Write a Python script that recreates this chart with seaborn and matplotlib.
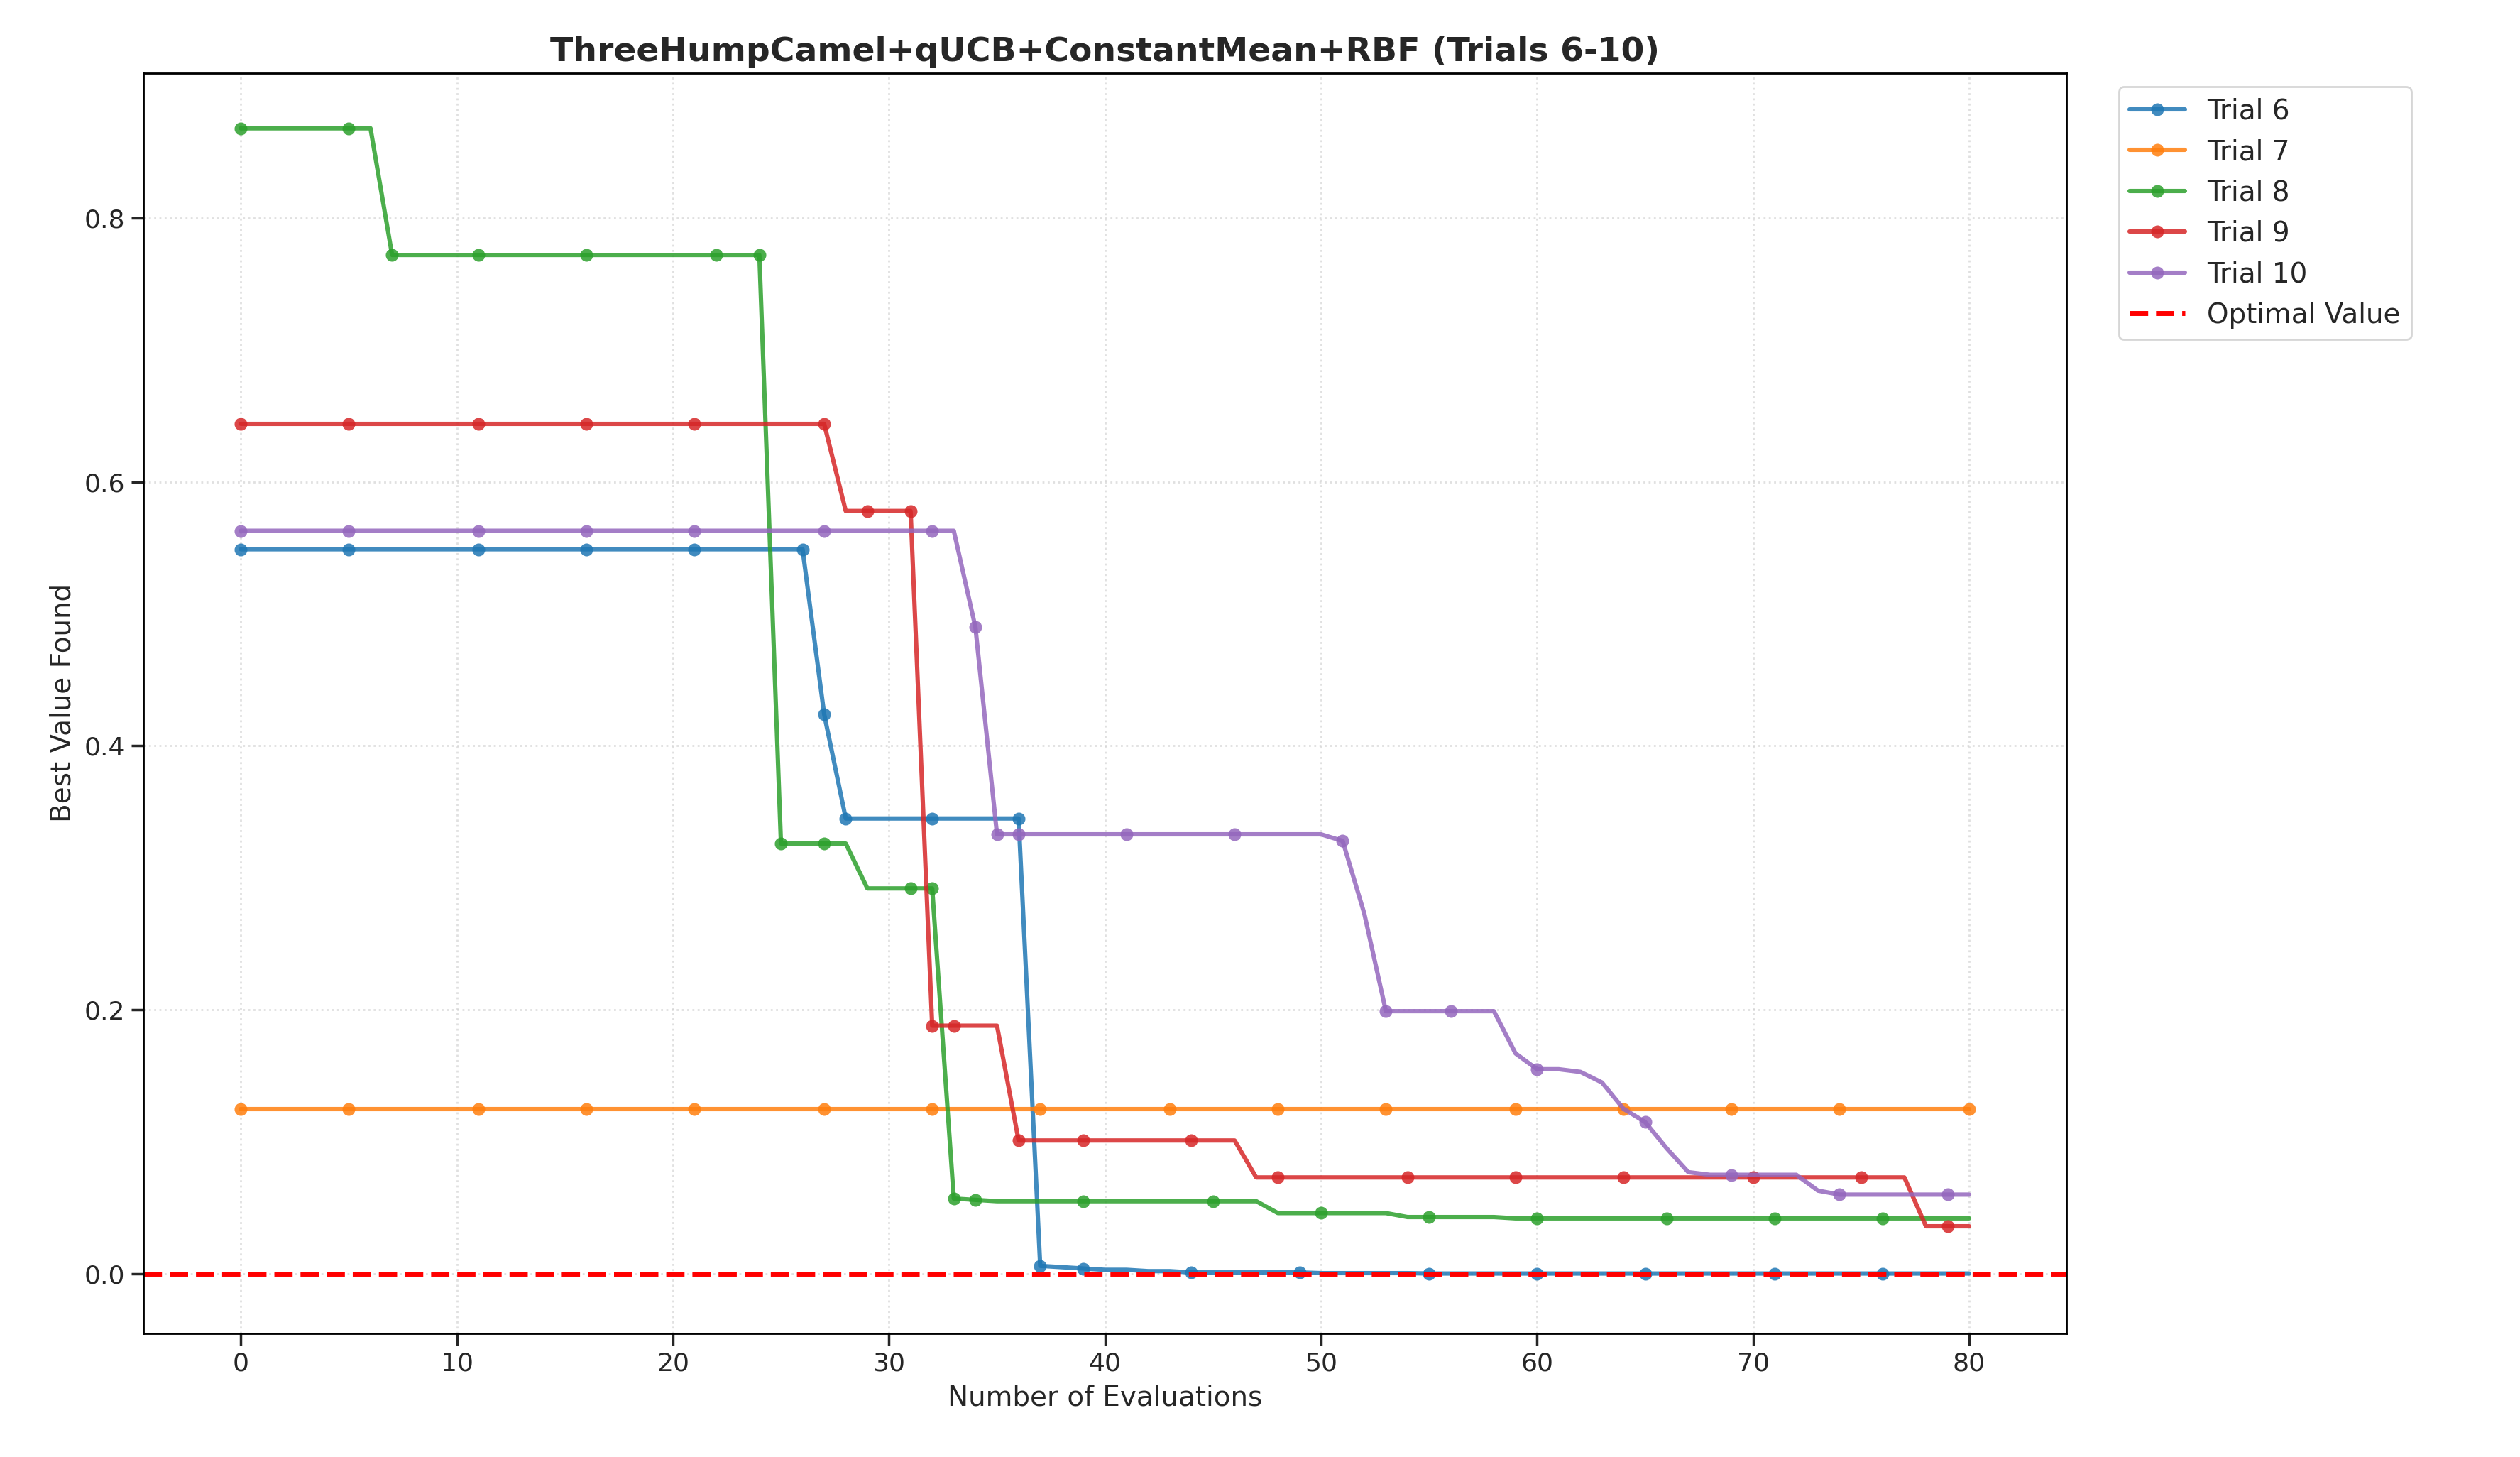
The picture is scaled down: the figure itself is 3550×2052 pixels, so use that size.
import matplotlib
matplotlib.use("Agg")
import matplotlib.pyplot as plt
import seaborn as sns
import numpy as np
import pandas as pd

evals = list(range(81))
trial6 = [0.549]*27 + [0.424] + [0.345]*9 + [0.006, 0.005, 0.004, 0.003, 0.003, 0.002, 0.002, 0.001] + [0.001]*5 + [0.0005]*5 + [0.0002]*26
trial7 = [0.125]*81
trial8 = [0.868]*7 + [0.772]*18 + [0.326]*4 + [0.292]*4 + [0.057, 0.056] + [0.055]*13 + [0.046]*6 + [0.043]*5 + [0.042]*22
trial9 = [0.644]*28 + [0.578]*4 + [0.188]*4 + [0.101]*11 + [0.073]*31 + [0.036]*3
trial10 = [0.563]*34 + [0.49] + [0.333]*16 + [0.328, 0.273] + [0.199]*6 + [0.167, 0.155, 0.155, 0.153, 0.145, 0.125, 0.115, 0.095, 0.077] + [0.075]*5 + [0.063] + [0.06]*7
trials = {"Trial 6": trial6, "Trial 7": trial7, "Trial 8": trial8, "Trial 9": trial9, "Trial 10": trial10}
optimal = 0.0

sns.set_theme(style="white")
plt.rcParams['font.family'] = ['DejaVu Sans']
fig, ax = plt.subplots(figsize=(17.75, 10.26), dpi=200)
colors = sns.color_palette("tab10", 5)
for (name, vals), c in zip(trials.items(), colors):
    df = pd.DataFrame({"x": evals, "y": vals})
    sns.lineplot(data=df, x="x", y="y", ax=ax, color=c, linewidth=2.2, alpha=0.85,
                 marker="o", markersize=6.5, markeredgewidth=0, markevery=0.05, label=name)
ax.axhline(optimal, color="red", linestyle="--", linewidth=2.5, label="Optimal Value")
ax.set_xlim(-4.5, 84.5)
ax.set_ylim(-0.045, 0.91)
ax.grid(True, linestyle=":", alpha=0.6)
for s in ax.spines.values():
    s.set_color("black"); s.set_linewidth(1)
ax.set_title("ThreeHumpCamel+qUCB+ConstantMean+RBF (Trials 6-10)", fontsize=17, fontweight="bold")
ax.set_xlabel("Number of Evaluations", fontsize=14)
ax.set_ylabel("Best Value Found", fontsize=14)
ax.tick_params(labelsize=13, left=True, bottom=True)
ax.legend(loc="upper left", bbox_to_anchor=(1.02, 1), fontsize=14, frameon=True)
fig.subplots_adjust(left=0.057, right=0.82, top=0.95, bottom=0.085)
fig.savefig("out.png", dpi=200)
